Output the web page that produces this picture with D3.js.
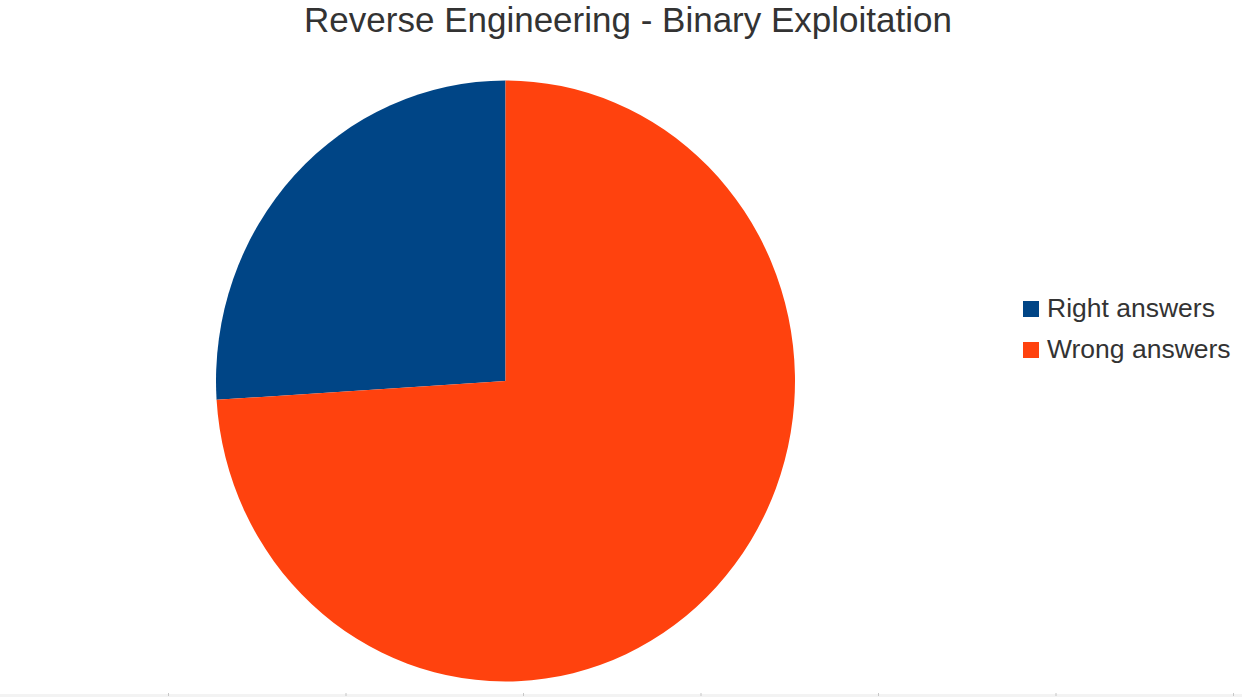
<!DOCTYPE html>
<html>
<head>
<meta charset="utf-8">
<script src="https://cdn.jsdelivr.net/npm/d3@7"></script>
<style>
  html, body { margin: 0; padding: 0; background: #fff; }
  svg { display: block; }
  text { font-family: "Liberation Sans", Arial, sans-serif; fill: #333; }
</style>
</head>
<body>
<svg id="chart" width="1242" height="697"></svg>
<script>
// Answer counts per category
const categories = ["Right answers", "Wrong answers"];
const values = [13, 37];
const colors = ["#004586", "#ff420e"];
const title = "Reverse Engineering - Binary Exploitation";

const W = 1242, H = 697;
const svg = d3.select("#chart");

// Title
svg.append("text")
  .attr("x", 628).attr("y", 32)
  .attr("text-anchor", "middle")
  .style("font-size", "35px")
  .text(title);

// Pie: slices laid out counter-clockwise from 12 o'clock
const cx = 505.5, cy = 381, rx = 289.5, ry = 300.5;
const pie = d3.pie().sort(null).startAngle(0).endAngle(-2 * Math.PI);
const arc = d3.arc().innerRadius(0).outerRadius(ry);

const data = categories.map((c, i) => ({ name: c, value: values[i] }));
const color = d3.scaleOrdinal().domain(categories).range(colors);

svg.append("g")
  .attr("transform", `translate(${cx},${cy}) scale(${rx / ry},1)`)
  .selectAll("path")
  .data(pie.value(d => d.value)(data))
  .join("path")
  .attr("d", arc)
  .attr("fill", d => color(d.data.name));

// Legend
const legend = svg.append("g").attr("transform", "translate(1023,301)");
const rows = legend.selectAll("g")
  .data(categories)
  .join("g")
  .attr("transform", (d, i) => `translate(0,${i * 41})`);
rows.append("rect")
  .attr("width", 16).attr("height", 16)
  .attr("fill", d => color(d));
rows.append("text")
  .attr("x", 24).attr("y", 16)
  .style("font-size", "26.5px")
  .text(d => d);

// Faint ruler strip along the bottom edge
svg.append("rect")
  .attr("x", 0).attr("y", 694).attr("width", W).attr("height", 3)
  .attr("fill", "#f3f3f3");
svg.append("g")
  .selectAll("rect")
  .data(d3.range(7))
  .join("rect")
  .attr("x", i => 168 + i * 177.5).attr("y", 693)
  .attr("width", 1).attr("height", 3)
  .attr("fill", "#c8c8c8");
</script>
</body>
</html>
